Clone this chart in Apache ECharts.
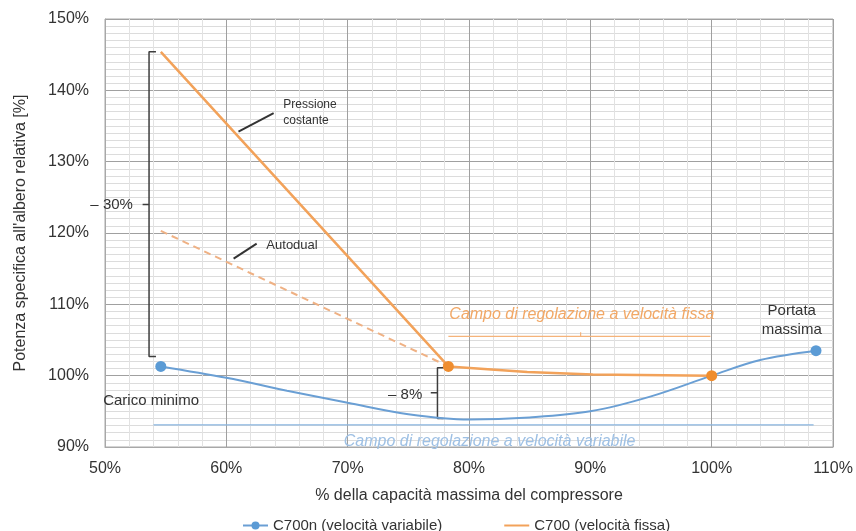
<!DOCTYPE html>
<html>
<head>
<meta charset="utf-8">
<script src="https://cdn.jsdelivr.net/npm/echarts@6/dist/echarts.min.js"></script>
<style>
  html, body { margin: 0; padding: 0; background: #ffffff; }
  #chart { width: 856px; height: 531px; }
</style>
</head>
<body>
<div id="chart"></div>
<script>
// Capacity (% of compressor maximum) and relative specific shaft power (%)
const c700nCapacity = [54.6, 60, 65, 70, 75, 80, 85, 90, 95, 100, 104, 108.6];
const c700nPower    = [101.3, 99.7, 97.9, 96.2, 94.6, 93.85, 94.15, 95.0, 97.1, 100.0, 102.2, 103.5];

const c700Capacity  = [54.6, 78.3, 84.8, 90.2, 100];
const c700Power     = [145.4, 101.3, 100.5, 100.15, 100.0];
const c700Markers   = [78.3, 100];          // operating points shown with a dot

const autodualCapacity = [54.6, 78.3];
const autodualPower    = [120.3, 101.3];

const xTicks = [50, 60, 70, 80, 90, 100, 110];
const yTicks = [90, 100, 110, 120, 130, 140, 150];

const seriesNames = ['C700n (velocità variabile)', 'C700 (velocità fissa)'];

const BLUE = '#6a9fd4';
const BLUE_DOT = '#5b9bd5';
const ORANGE = '#f2a25a';
const ORANGE_DOT = '#ef8d2e';
const INK = '#333333';
const FONT = 'Liberation Sans, Arial, sans-serif';

const c700nData = c700nCapacity.map((x, i) => {
  const ends = i === 0 || i === c700nCapacity.length - 1;
  return { value: [x, c700nPower[i]], symbol: ends ? 'circle' : 'none' };
});
const c700Data = c700Capacity.map((x, i) => {
  const dot = c700Markers.includes(x);
  return dot ? { value: [x, c700Power[i]], symbol: 'circle', symbolSize: 11 }
             : { value: [x, c700Power[i]] };
});
const autodualData = autodualCapacity.map((x, i) => [x, autodualPower[i]]);

// Helper for thin annotation strokes drawn in data space
function stroke(points, color, width) {
  return {
    type: 'line', data: points, symbol: 'none', silent: true, z: 1,
    lineStyle: { color: color, width: width || 1.5 }, animation: false
  };
}

const chart = echarts.init(document.getElementById('chart'), null, { renderer: 'canvas' });

chart.setOption({
  animation: false,
  backgroundColor: '#ffffff',
  textStyle: { fontFamily: FONT },
  grid: { left: 105, right: 23, top: 19, bottom: 84, show: true, borderColor: '#a8a8a8', borderWidth: 1 },
  legend: {
    data: [
      { name: seriesNames[0] },
      // plain line key for the fixed-speed curve
      { name: seriesNames[1], icon: 'path://M0,0L25,0L25,2L0,2Z', itemStyle: { color: ORANGE } }
    ],
    left: 237, top: 513, itemGap: 62, itemWidth: 25, itemHeight: 10,
    textStyle: { fontSize: 15, color: INK, fontFamily: FONT }
  },
  xAxis: {
    type: 'value', min: xTicks[0], max: xTicks[xTicks.length - 1], interval: 10,
    name: '% della capacità massima del compressore',
    nameLocation: 'middle', nameGap: 41,
    nameTextStyle: { fontSize: 16, color: INK, fontFamily: FONT },
    axisLine: { show: true, lineStyle: { color: '#a8a8a8' } },
    axisTick: { show: false },
    axisLabel: { formatter: '{value}%', fontSize: 16, color: INK, margin: 14, fontFamily: FONT },
    splitLine: { show: true, lineStyle: { color: '#a0a0a0', width: 1 } },
    minorTick: { show: false, splitNumber: 5 },
    minorSplitLine: { show: true, lineStyle: { color: '#e2e2e2', width: 1 } }
  },
  yAxis: {
    type: 'value', min: yTicks[0], max: yTicks[yTicks.length - 1], interval: 10,
    name: "Potenza specifica all'albero relativa [%]",
    nameLocation: 'middle', nameGap: 76, nameRotate: 90,
    nameTextStyle: { fontSize: 16, color: INK, fontFamily: FONT },
    axisLine: { show: true, lineStyle: { color: '#a8a8a8' } },
    axisTick: { show: false },
    axisLabel: { formatter: '{value}%', fontSize: 16, color: INK, margin: 16, fontFamily: FONT },
    splitLine: { show: true, lineStyle: { color: '#a0a0a0', width: 1 } },
    minorTick: { show: false, splitNumber: 10 },
    minorSplitLine: { show: true, lineStyle: { color: '#dcdcdc', width: 1 } }
  },
  series: [
    // bracket for the ~30% gap at minimum load
    stroke([[54.2, 145.4], [53.63, 145.4], [53.63, 102.7], [54.2, 102.7]], '#3d3d3d'),
    stroke([[53.1, 124.0], [53.63, 124.0]], '#3d3d3d'),
    // bracket for the ~8% gap at the turning point
    stroke([[77.9, 101.1], [77.4, 101.1], [77.4, 94.0], [77.9, 94.0]], '#3d3d3d'),
    stroke([[76.85, 97.6], [77.4, 97.6]], '#3d3d3d'),
    // leader lines for the curve names
    stroke([[61.0, 134.2], [63.9, 136.8]], '#333333', 2),
    stroke([[60.6, 116.4], [62.5, 118.5]], '#333333', 2),
    // regulation ranges
    stroke([[78.3, 105.5], [99.9, 105.5]], '#f5b37a', 1.2),
    stroke([[89.2, 105.5], [89.2, 106.1]], '#f5b37a', 1.2),
    stroke([[54.0, 93.1], [108.4, 93.1]], '#8ab6e0', 1.2),
    {
      name: seriesNames[0], type: 'line', data: c700nData, smooth: 0.35,
      symbol: 'circle', symbolSize: 11, z: 3,
      itemStyle: { color: BLUE_DOT }, lineStyle: { color: BLUE, width: 2 }
    },
    {
      name: 'Autodual', type: 'line', data: autodualData, symbol: 'none', z: 2,
      lineStyle: { color: '#efb184', width: 2, type: [7, 5] }
    },
    {
      name: seriesNames[1], type: 'line', data: c700Data, symbol: 'none', z: 4,
      itemStyle: { color: ORANGE_DOT }, lineStyle: { color: ORANGE, width: 2.5 }
    }
  ]
});

// Text annotations anchored to data coordinates
const notes = [
  { text: '– 30%', at: [52.3, 124.0], align: 'right', size: 15 },
  { text: '– 8%', at: [76.15, 97.3], align: 'right', size: 15 },
  { text: 'Pressione\ncostante', at: [64.7, 136.8], align: 'left', size: 12, lh: 16 },
  { text: 'Autodual', at: [63.3, 118.2], align: 'left', size: 13 },
  { text: 'Campo di regolazione a velocità fissa', at: [89.3, 108.5], align: 'center', size: 16, italic: true, color: '#f2a866' },
  { text: 'Portata\nmassima', at: [106.6, 107.7], align: 'center', size: 15, lh: 19 },
  { text: 'Carico minimo', at: [53.8, 96.4], align: 'center', size: 15 },
  { text: 'Campo di regolazione a velocità variabile', at: [81.7, 90.75], align: 'center', size: 16, italic: true, color: '#9ec0e4' }
];

chart.setOption({
  graphic: notes.map(n => {
    const p = chart.convertToPixel({ gridIndex: 0 }, n.at);
    return {
      type: 'text', x: p[0], y: p[1], z: 10, silent: true,
      style: {
        text: n.text, fill: n.color || INK, align: n.align, verticalAlign: 'middle',
        font: (n.italic ? 'italic ' : '') + n.size + 'px ' + FONT,
        lineHeight: n.lh || n.size + 2
      }
    };
  })
});
</script>
</body>
</html>
